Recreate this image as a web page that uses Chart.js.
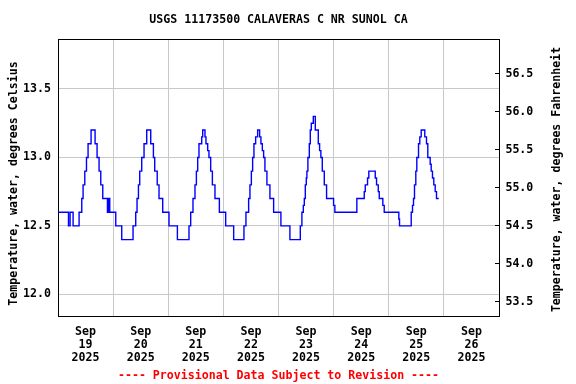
<!DOCTYPE html>
<html><head><meta charset="utf-8">
<script src="https://cdn.jsdelivr.net/npm/chart.js@4.4.0/dist/chart.umd.min.js"></script>
<style>html,body{margin:0;padding:0;background:#fff;}canvas{display:block;}</style>
</head><body>
<canvas id="c" width="576" height="384"></canvas>
<script>
// ---- text ----
const titleText = 'USGS 11173500 CALAVERAS C NR SUNOL CA';
const footerText = '---- Provisional Data Subject to Revision ----';
const leftAxisTitle = 'Temperature, water, degrees Celsius';
const rightAxisTitle = 'Temperature, water, degrees Fahrenheit';

// ---- x axis (hours since 2025-09-19 00:00) ----
const monthLabel = 'Sep';
const yearLabel = '2025';
const dayLabels = ['19', '20', '21', '22', '23', '24', '25', '26'];
const xRangeHours = [0, 192];

// ---- y axes ----
const celsiusRange = [11.842, 13.865];
const celsiusTicks = [12.0, 12.5, 13.0, 13.5];
const fahrenheitTicks = [53.5, 54.0, 54.5, 55.0, 55.5, 56.0, 56.5];

// ---- series: time of each change (hours) and water temperature (deg C) ----
const hoursSinceStart = [
  0, 4.57, 5.26, 6.57, 9.18, 10.35, 10.92, 11.66, 12.40, 13.09, 14.40, 16.14, 17.01, 17.88, 18.62, 19.49, 21.53, 22.10, 22.53,
  25.14, 27.75, 32.67, 33.84, 34.41, 35.02, 35.58, 36.45, 37.46, 38.63, 40.37, 41.54, 42.11, 43.20, 43.98, 45.59,
  48.33, 51.98, 57.03, 57.77, 58.77, 59.64, 60.25, 60.82, 61.38, 62.56, 62.99, 63.99, 64.42, 65.17, 65.73, 66.47, 67.21, 68.34, 70.25,
  73.00, 76.48, 80.96, 81.83, 83.00, 83.57, 84.18, 84.74, 85.31, 86.05, 86.92, 87.79, 88.35, 88.96, 89.53, 90.09, 90.96, 92.27, 93.88,
  97.05, 100.97, 105.49, 106.19, 106.80, 107.23, 107.67, 108.10, 108.36, 108.80, 109.41, 109.84, 110.28, 111.15, 112.02, 113.32, 113.89, 114.45, 115.06, 115.93, 116.93, 119.98,
  120.54, 130.11, 133.33, 133.77, 134.77, 135.33, 138.12, 138.69, 139.43, 139.86, 141.42, 142.03,
  148.39, 148.69, 153.78, 154.34, 154.78, 155.21, 155.78, 156.22, 156.96, 157.52, 158.13, 159.69, 160.43, 161.00, 162.04, 162.48, 163.04, 163.61, 164.22, 164.79, 165.78
];
const tempC = [
  12.6, 12.5, 12.6, 12.5, 12.6, 12.7, 12.8, 12.9, 13.0, 13.1, 13.2, 13.1, 13.0, 12.9, 12.8, 12.7, 12.6, 12.7, 12.6,
  12.5, 12.4, 12.5, 12.6, 12.7, 12.8, 12.9, 13.0, 13.1, 13.2, 13.1, 13.0, 12.9, 12.8, 12.7, 12.6,
  12.5, 12.4, 12.5, 12.6, 12.7, 12.8, 12.9, 13.0, 13.1, 13.15, 13.2, 13.15, 13.1, 13.05, 13.0, 12.9, 12.8, 12.7, 12.6,
  12.5, 12.4, 12.5, 12.6, 12.7, 12.8, 12.9, 13.0, 13.1, 13.15, 13.2, 13.15, 13.1, 13.05, 13.0, 12.9, 12.8, 12.7, 12.6,
  12.5, 12.4, 12.5, 12.6, 12.65, 12.7, 12.8, 12.85, 12.9, 13.0, 13.1, 13.2, 13.25, 13.3, 13.2, 13.1, 13.05, 13.0, 12.9, 12.8, 12.7, 12.65,
  12.6, 12.7, 12.75, 12.8, 12.85, 12.9, 12.85, 12.8, 12.75, 12.7, 12.65, 12.6,
  12.55, 12.5, 12.6, 12.65, 12.7, 12.8, 12.9, 13.0, 13.1, 13.15, 13.2, 13.15, 13.1, 13.0, 12.95, 12.9, 12.85, 12.8, 12.75, 12.7, 12.7
];

const cToF = c => c * 1.8 + 32;
const FONT = { family: '"DejaVu Sans Mono", monospace', size: 11.6, weight: 'bold', lineHeight: '13px' };
const GRID = '#c8c8c8';

const points = hoursSinceStart.map((h, i) => ({ x: h, y: tempC[i] }));
const xTickHours = [];
for (let h = xRangeHours[0]; h <= xRangeHours[1]; h += 12) xTickHours.push(h);

const textPlugin = {
  id: 'texts',
  afterDraw(chart) {
    const ctx = chart.ctx, a = chart.chartArea;
    const cx = (a.left + a.right) / 2, cy = (a.top + a.bottom) / 2;
    ctx.save();
    ctx.font = 'bold 11.6px "DejaVu Sans Mono", monospace';
    ctx.textAlign = 'center';
    ctx.textBaseline = 'middle';
    ctx.fillStyle = '#000';
    ctx.fillText(titleText, cx, 20);
    ctx.fillStyle = '#ff0000';
    ctx.fillText(footerText, cx, 375.5);
    ctx.fillStyle = '#000';
    ctx.save(); ctx.translate(14, cy + 6); ctx.rotate(-Math.PI / 2); ctx.fillText(leftAxisTitle, 0, 0); ctx.restore();
    ctx.save(); ctx.translate(557, cy + 2); ctx.rotate(-Math.PI / 2); ctx.fillText(rightAxisTitle, 0, 0); ctx.restore();
    ctx.restore();
  }
};

new Chart(document.getElementById('c'), {
  type: 'line',
  data: {
    datasets: [{
      data: points,
      xAxisID: 'x',
      yAxisID: 'y',
      borderColor: '#0000ff',
      borderWidth: 1.4,
      pointRadius: 0,
      stepped: true,
      fill: false,
      tension: 0
    }]
  },
  options: {
    responsive: false,
    animation: false,
    devicePixelRatio: 1,
    layout: { padding: { top: 39, left: 0, right: 0, bottom: 0 } },
    plugins: { legend: { display: false }, title: { display: false }, tooltip: { enabled: false } },
    scales: {
      x: {
        type: 'linear', position: 'bottom', min: xRangeHours[0], max: xRangeHours[1],
        afterBuildTicks: s => { s.ticks = xTickHours.map(v => ({ value: v })); },
        afterFit: s => { s.height = 68; },
        grid: {
          color: c => (c.tick && c.tick.value % 24 === 0 && c.tick.value > xRangeHours[0] && c.tick.value < xRangeHours[1]) ? GRID : 'rgba(0,0,0,0)',
          lineWidth: 1, drawTicks: false
        },
        border: { display: true, color: '#000', width: 1 },
        ticks: {
          autoSkip: false, maxRotation: 0, minRotation: 0, padding: 9, color: '#000', font: FONT,
          callback: v => (v % 24 === 12) ? [monthLabel, dayLabels[Math.floor(v / 24)], yearLabel] : ''
        }
      },
      xTop: {
        type: 'linear', position: 'top', min: xRangeHours[0], max: xRangeHours[1],
        afterFit: s => { s.height = 0; },
        grid: { display: false, drawTicks: false },
        border: { display: true, color: '#000', width: 1 },
        ticks: { display: false }
      },
      y: {
        type: 'linear', position: 'left', min: celsiusRange[0], max: celsiusRange[1],
        afterBuildTicks: s => { s.ticks = celsiusTicks.map(v => ({ value: v })); },
        afterFit: s => { s.width = 58; },
        grid: { color: GRID, lineWidth: 1, drawTicks: false },
        border: { display: true, color: '#000', width: 1 },
        ticks: { padding: 7, color: '#000', font: FONT, callback: v => Number(v).toFixed(1) }
      },
      yF: {
        type: 'linear', position: 'right', min: cToF(celsiusRange[0]), max: cToF(celsiusRange[1]),
        afterBuildTicks: s => { s.ticks = fahrenheitTicks.map(v => ({ value: v })); },
        afterFit: s => { s.width = 77; },
        grid: { drawOnChartArea: false, drawTicks: true, tickLength: -4, tickColor: '#000', tickWidth: 1 },
        border: { display: true, color: '#000', width: 1 },
        ticks: { padding: 10.4, color: '#000', font: FONT, callback: v => Number(v).toFixed(1) }
      }
    }
  },
  plugins: [textPlugin]
});
</script>
</body></html>
